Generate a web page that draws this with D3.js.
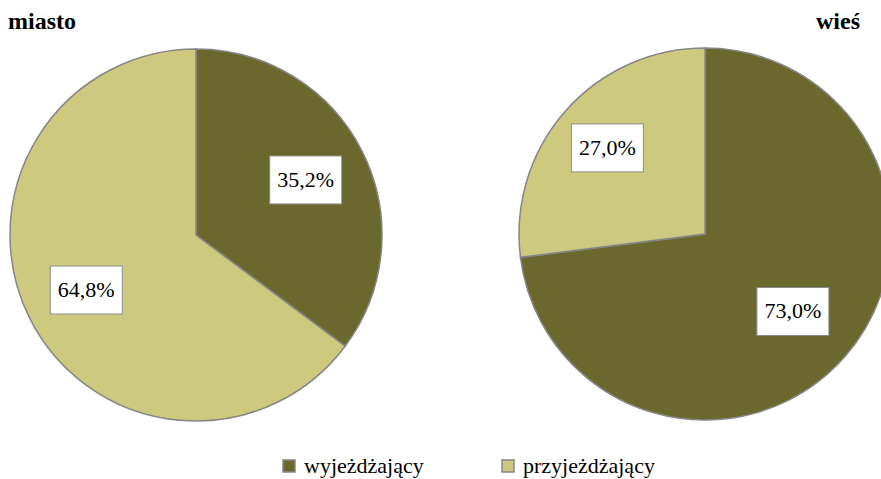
<!DOCTYPE html>
<html>
<head>
<meta charset="utf-8">
<script src="https://cdn.jsdelivr.net/npm/d3@7"></script>
<style>
  body { margin: 0; background: #fff; }
</style>
</head>
<body>
<div id="chart"></div>
<script>
// data
var categories = ["wyjeżdżający", "przyjeżdżający"];
var pieTitles = ["miasto", "wieś"];
var miastoValues = [35.2, 64.8];
var wiesValues = [73.0, 27.0];
var colors = ["#6b682e", "#cdc97e"];

var width = 881, height = 479;
var serif = "'Liberation Serif', 'Times New Roman', serif";
var svg = d3.select("#chart").append("svg")
  .attr("width", width)
  .attr("height", height);

var radius = 186;
// labelPos: how far out (fraction of radius) each slice's label box sits
var pies = [
  { title: pieTitles[0], values: miastoValues, cx: 196, cy: 235, titleX: 8, anchor: "start", labelPos: [0.66, 0.66] },
  { title: pieTitles[1], values: wiesValues, cx: 705, cy: 234, titleX: 860, anchor: "end", labelPos: [0.63, 0.70] }
];

var pie = d3.pie().sort(null).value(function (d) { return d; });
var arc = d3.arc().innerRadius(0).outerRadius(radius);
var fmt = function (v) { return v.toFixed(1).replace(".", ",") + "%"; };

pies.forEach(function (p) {
  var g = svg.append("g").attr("transform", "translate(" + p.cx + "," + p.cy + ")");
  var arcs = pie(p.values);

  g.selectAll("path.slice")
    .data(arcs)
    .enter().append("path")
    .attr("class", "slice")
    .attr("d", arc)
    .attr("fill", function (d, i) { return colors[i]; })
    .attr("stroke", "#868686")
    .attr("stroke-width", 1.5);

  var lab = g.selectAll("g.lab")
    .data(arcs)
    .enter().append("g")
    .attr("class", "lab")
    .attr("transform", function (d, i) {
      var r = radius * p.labelPos[i];
      var la = d3.arc().innerRadius(r).outerRadius(r);
      return "translate(" + la.centroid(d) + ")";
    });
  lab.append("rect")
    .attr("x", -36).attr("y", -24)
    .attr("width", 72).attr("height", 48)
    .attr("fill", "#fff")
    .attr("stroke", "#8c8c8c")
    .attr("stroke-width", 1);
  lab.append("text")
    .attr("text-anchor", "middle")
    .attr("y", 7)
    .style("font-family", serif)
    .style("font-size", "22px")
    .attr("fill", "#000")
    .text(function (d) { return fmt(d.data); });

  svg.append("text")
    .attr("x", p.titleX)
    .attr("y", 29)
    .attr("text-anchor", p.anchor)
    .style("font-family", serif)
    .style("font-size", "24px")
    .style("font-weight", "bold")
    .text(p.title);
});

// legend
var legendX = [283, 502];
var legend = svg.selectAll("g.legend")
  .data(categories)
  .enter().append("g")
  .attr("class", "legend")
  .attr("transform", function (d, i) { return "translate(" + legendX[i] + ",460)"; });
legend.append("rect")
  .attr("width", 12).attr("height", 12)
  .attr("fill", function (d, i) { return colors[i]; })
  .attr("stroke", "#868686")
  .attr("stroke-width", 1.5);
legend.append("text")
  .attr("x", 21)
  .attr("y", 13)
  .style("font-family", serif)
  .style("font-size", "22px")
  .text(function (d) { return d; });
</script>
</body>
</html>
